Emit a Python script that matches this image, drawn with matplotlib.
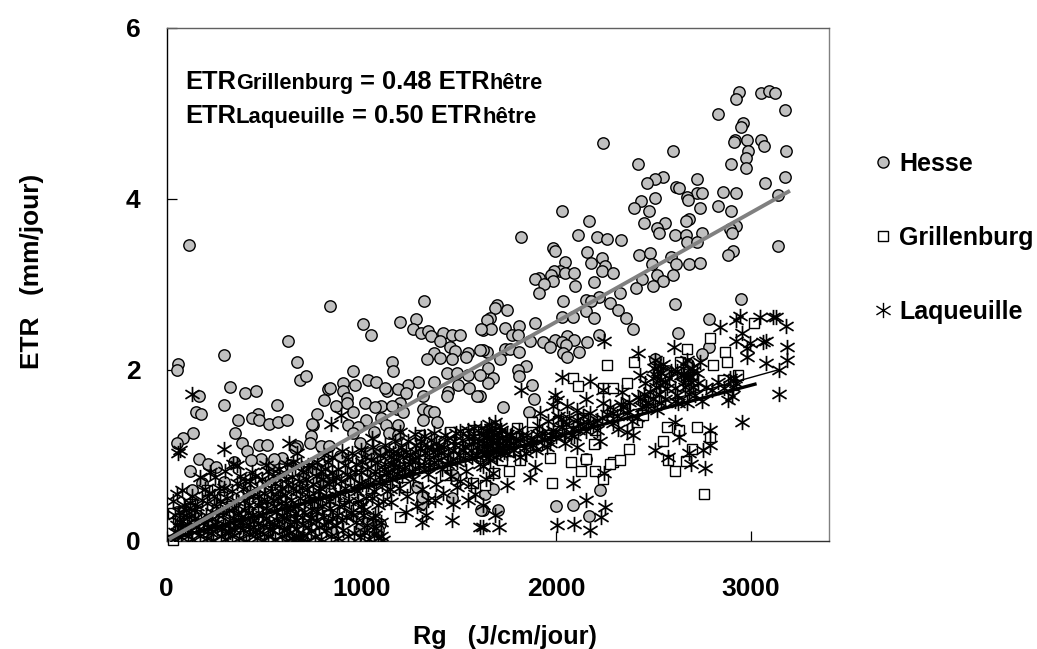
import matplotlib
matplotlib.use("Agg")
import matplotlib.pyplot as plt
from matplotlib.lines import Line2D
from matplotlib.path import Path

plt.rcParams['font.family'] = ['Liberation Sans', 'DejaVu Sans']
plt.rcParams['font.weight'] = 'bold'

x_ticks = [0, 1000, 2000, 3000]
y_ticks = [0, 2, 4, 6]
x_title = "Rg   (J/cm/jour)"
y_title = "ETR   (mm/jour)"
series_names = ["Hesse", "Grillenburg", "Laqueuille"]

hesse_pts = [
(2939,5.25),(2922,5.16),(3049,5.24),(3090,5.26),(3122,5.24),(3172,5.03),(2831,4.99),(2956,4.88),(2946,4.84),(2241,4.65),
(2915,4.69),(2914,4.66),(2980,4.69),(3049,4.69),(3066,4.62),(2982,4.56),(2599,4.56),(3180,4.56),(2973,4.48),(2417,4.40),
(2898,4.40),(2972,4.36),(3172,4.25),(2722,4.23),(2549,4.25),(2508,4.23),(2465,4.18),(3073,4.18),(2614,4.14),(2631,4.12),
(2857,4.08),(2922,4.06),(2724,4.06),(2749,4.06),(2672,4.02),(2674,3.98),(2508,4.01),(3138,4.04),(2433,3.97),(2400,3.89),
(2475,3.86),(2831,3.91),(2739,3.89),(2898,3.85),(2027,3.85),(2168,3.74),(2450,3.72),(2558,3.72),(2683,3.76),(2665,3.74),
(2515,3.66),(2525,3.60),(2607,3.57),(2665,3.57),(2749,3.60),(2925,3.68),(2891,3.64),(2900,3.60),(1818,3.55),(2109,3.57),
(2209,3.55),(2258,3.53),(2333,3.51),(2672,3.49),(2724,3.49),(3138,3.45),(1984,3.42),(1995,3.39),(2159,3.37),(2426,3.34),
(2482,3.36),(2907,3.39),(2881,3.34),(2234,3.30),(2044,3.26),(2176,3.25),(2491,3.23),(2590,3.32),(2616,3.23),(2683,3.23),
(2739,3.25),(2251,3.21),(2019,3.15),(1988,3.15),(1971,3.11),(2044,3.13),(2092,3.13),(2234,3.15),(2292,3.13),(2517,3.11),
(2599,3.11),(1911,3.07),(1890,3.06),(1984,3.04),(1936,3.00),(2193,3.02),(2441,3.06),(2549,3.04),(2094,2.98),(2407,2.96),
(2499,2.98),(1911,2.90),(2327,2.90),(2217,2.85),(2034,2.80),(2150,2.81),(2176,2.80),(2275,2.78),(2607,2.77),(2948,2.83),
(1695,2.76),(1745,2.70),(1683,2.72),(2316,2.70),(2150,2.68),(2027,2.62),(2084,2.62),(2193,2.60),(2357,2.60),(1892,2.55),
(2782,2.59),(1659,2.60),(1642,2.58),(2392,2.48),(1810,2.51),(1736,2.49),(1625,2.46),(1663,2.48),(1774,2.41),(1801,2.41),
(2056,2.39),(2092,2.35),(1995,2.35),(2217,2.40),(2159,2.32),(1933,2.32),(1865,2.34),(2027,2.32),(2049,2.29),(1967,2.26),
(1736,2.24),(1762,2.24),(1810,2.21),(2118,2.21),(2032,2.19),(2053,2.15),(1642,2.21),(1711,2.13),(1625,2.23),(1647,2.02),
(1844,2.04),(1801,2.00),(1810,1.92),(1676,1.90),(1651,1.84),(1877,1.82),(2623,2.43),(2782,2.26),(2746,2.18),(2576,1.98),
(2508,2.13),(1885,1.66),(1860,1.50),(1728,1.56),(1608,1.69),(2155,0.95),(2224,0.59),(2001,0.40),(2085,0.42),(2167,0.29),
(1702,0.36),(1634,0.55),(1676,0.61),(1625,0.36),(2677,2.07),
(60,2.07),(52,1.99),(293,2.17),(625,2.34),(667,2.09),(685,1.88),(715,1.92),(840,2.74),(1006,2.53),(1047,2.41),
(1198,2.56),(1280,2.59),(1321,2.80),(1263,2.47),(1306,2.43),(1340,2.45),(1357,2.39),(1420,2.43),(1463,2.41),(1506,2.41),
(1405,2.34),(1455,2.26),(1480,2.22),(1371,2.20),(1338,2.13),(1403,2.14),(1463,2.13),(1545,2.19),(1537,2.15),(1157,2.09),
(1164,1.98),(957,1.98),(1438,1.96),(1489,1.96),(1549,1.94),(1032,1.88),(1075,1.86),(907,1.84),(967,1.82),(1289,1.86),
(1371,1.86),(1237,1.82),(1497,1.82),(1446,1.74),(1554,1.78),(1591,1.69),(1438,1.69),(325,1.80),(401,1.73),(459,1.75),
(168,1.69),(151,1.50),(176,1.48),(295,1.59),(567,1.59),(827,1.77),(839,1.79),(810,1.65),(907,1.75),(924,1.67),
(868,1.57),(924,1.61),(1017,1.61),(1099,1.57),(1131,1.75),(1189,1.77),(1230,1.73),(1121,1.79),(1314,1.69),(1198,1.61),
(1314,1.54),(1348,1.52),(1374,1.50),(1181,1.54),(1215,1.50),(1155,1.57),(1068,1.56),(958,1.50),(774,1.48),(467,1.48),
(368,1.41),(438,1.43),(476,1.41),(525,1.37),(573,1.39),(616,1.41),(753,1.35),(745,1.37),(1025,1.41),(1099,1.44),
(1124,1.35),(1189,1.35),(1386,1.39),(1314,1.41),(933,1.35),(984,1.33),(1063,1.27),(958,1.26),(1140,1.26),(1189,1.24),
(137,1.26),(86,1.20),(52,1.14),(351,1.26),(385,1.14),(476,1.12),(517,1.12),(741,1.22),(736,1.14),(792,1.11),
(833,1.11),(414,1.05),(668,1.11),(659,1.08),(991,1.14),(1039,1.03),(1102,1.05),(168,0.95),(211,0.90),(253,0.86),
(120,0.82),(348,0.92),(484,0.95),(431,0.94),(548,0.88),(594,0.97),(553,0.96),(633,0.88),(762,0.84),(702,0.76),
(890,0.99),(294,0.69),(180,0.67),(129,0.59),(839,0.67),(796,0.71),(52,0.33),(77,0.35),(1027,0.21),(847,0.10),
(1095,0.20),(993,0.14),(1087,0.12),(1463,0.50),(1306,0.43),(1283,0.63),(1309,0.51),(1472,0.77),(1612,0.36),(1608,2.23),
(1612,2.47),(1608,1.94),(115,3.46),
]

grillenburg_pts = [
(3014,2.54),(2790,2.37),(2672,2.24),(2866,2.21),(2260,2.05),(2400,2.09),(2635,2.09),(2806,2.05),(2878,2.09),(2934,1.94),
(2857,1.88),(2087,1.90),(2113,1.81),(2241,1.78),(2292,1.78),(2361,1.84),(2352,1.55),(2412,1.39),(2446,1.47),(2138,1.43),
(1873,1.39),(1796,1.32),(1967,1.23),(2566,1.33),(2631,1.30),(2724,1.33),(2789,1.21),(2549,1.16),(2695,1.07),(2374,1.07),
(2193,1.13),(1967,0.97),(2075,0.92),(2155,0.95),(2292,0.92),(2327,0.94),(2275,0.90),(2125,0.82),(2198,0.82),(2575,0.94),
(2609,0.82),(2665,0.93),(1976,0.67),(2241,0.72),(2758,0.55),(1813,0.94),(1759,0.81),(1680,0.79),(1719,0.94),(1634,0.65),
(1455,1.27),(1571,1.29),(1549,1.25),(1571,0.68),(1300,1.23),(1224,0.63),(34,0.01),(205,0.59),(120,0.43),(283,0.51),
(565,0.59),(1198,0.28),(984,0.40),(1429,0.77),(1540,1.18),(34,0.32),(60,0.25),(95,0.12),(150,0.30),(230,0.18),
(330,0.40),(400,0.22),(470,0.34),(520,0.12),(640,0.30),(760,0.45),(830,0.30),(905,0.52),(1050,0.62),(1120,0.72),
(1250,0.85),(1350,1.02),(1480,0.98),(1620,1.10),(1680,1.22),(1750,1.05),(1900,1.12),(2010,1.40),(2200,1.30),(2480,1.62),
]

laqueuille_pts = [
(2941,2.63),(2924,2.58),(3045,2.62),(3110,2.61),(3127,2.61),(3177,2.51),(2838,2.50),(2951,2.43),(2922,2.34),(2245,2.33),
(3076,2.33),(3062,2.32),(3186,2.27),(2977,2.25),(2994,2.31),(2605,2.27),(2421,2.20),(2977,2.15),(3182,2.11),(3076,2.08),
(3143,1.99),(2506,2.11),(2549,2.07),(2652,2.07),(2737,2.09),(2027,1.91),(2173,1.87),(2429,1.94),(2455,1.84),(2532,1.82),
(2686,1.92),(2703,1.80),(2609,1.78),(2908,1.80),(2900,1.69),(3143,1.71),(2883,1.65),(1820,1.76),(1993,1.70),(2155,1.66),
(2241,1.76),(2335,1.74),(2429,1.66),(2498,1.66),(2609,1.63),(2746,1.63),(2669,1.61),(2951,1.39),(2609,1.39),(2789,1.29),
(2789,1.12),(2754,1.06),(2682,1.02),(2694,0.90),(2763,0.85),(2629,1.21),(2506,1.06),(2575,0.98),(2395,1.24),(2361,1.27),
(2318,1.31),(2224,1.17),(2104,1.10),(2044,1.14),(1967,1.14),(1890,0.86),(1865,0.75),(2087,0.68),(2245,0.79),(2155,0.47),
(2250,0.39),(2232,0.28),(2005,0.18),(2089,0.20),(2171,0.12),(1707,0.16),(1625,0.16),(1685,0.30),(1625,0.42),(1745,0.65),
(1685,1.39),(1642,1.29),(1711,1.33),(1745,1.25),(1813,1.18),(1899,1.25),(2027,1.33),(2087,1.31),(2207,1.41),(2292,1.49),
(2361,1.49),(2412,1.45),(2515,1.53),(1916,1.49),(1984,1.57),(2053,1.57),(2104,1.53),(2241,1.61),(2002,1.65),(2104,1.41),
(2173,1.49),(1813,0.98),(1676,1.06),(1642,1.14),(1659,0.94),(1711,1.09),(1779,1.14),(1865,1.14),(1625,0.87),(1676,0.79),
(2463,1.57),(2540,1.61),(2626,1.61),(2532,1.88),(2669,2.11),(2703,1.98),(2925,1.84),
(132,1.72),(57,1.02),(69,1.06),(296,1.07),(630,1.14),(842,1.36),(893,1.47),(339,0.90),(668,1.02),(52,0.55),
(77,0.59),(171,0.75),(1164,1.02),(1198,1.27),(1275,1.25),(1052,1.20),(1463,0.24),(1309,0.22),(1549,0.47),(1472,0.43),
(1343,0.47),(1609,0.16),(1489,0.63),
# ground hugging band
(40,0.02),(60,0.10),(75,0.04),(95,0.14),(110,0.06),(130,0.02),(150,0.16),(170,0.05),(185,0.12),(205,0.03),
(225,0.09),(240,0.01),(260,0.15),(280,0.05),(300,0.02),(315,0.11),(335,0.06),(350,0.18),(370,0.03),(390,0.12),
(405,0.00),(425,0.08),(445,0.16),(465,0.03),(480,0.10),(500,0.01),(520,0.06),(540,0.13),(555,0.02),(575,0.17),
(590,0.05),(610,0.00),(630,0.09),(645,0.03),(665,0.14),(685,0.02),(700,0.07),(720,0.00),(740,0.11),(760,0.04),
(635,0.20),(652,0.01),(672,0.06),(690,0.00),(880,0.03),(905,0.12),(930,0.05),(1040,0.02),(1062,0.08),(1085,0.03),
(1100,0.06),(990,0.04),(1012,0.10),(1030,0.18),(845,0.05),(820,0.13),(790,0.02),(960,0.09),(1075,0.15),(1110,0.01),
# low cloud
(45,0.30),(70,0.22),(90,0.42),(115,0.28),(140,0.36),(160,0.24),(180,0.48),(200,0.30),(215,0.56),(235,0.25),
(255,0.40),(270,0.62),(290,0.30),(310,0.50),(325,0.22),(345,0.38),(360,0.68),(380,0.28),(395,0.48),(415,0.32),
(430,0.58),(450,0.24),(470,0.42),(490,0.30),(505,0.66),(525,0.22),(545,0.48),(560,0.34),(580,0.58),(600,0.26),
(615,0.44),(635,0.36),(650,0.62),(670,0.24),(685,0.50),(705,0.34),(720,0.60),(735,0.27),(755,0.46),(770,0.35),
(785,0.62),(805,0.28),(820,0.52),(840,0.38),(855,0.70),(875,0.30),(890,0.56),(910,0.42),(925,0.78),(945,0.34),
(960,0.62),(980,0.46),(1000,0.80),(1015,0.36),(1035,0.66),(1055,0.50),(1070,0.30),(1090,0.74),(1110,0.46),(1130,0.58),
(400,0.70),(440,0.80),(520,0.82),(580,0.78),(610,0.72),(660,0.86),(700,0.80),(745,0.88),(790,0.82),(830,0.92),
(880,0.84),(930,0.96),(970,0.90),(1020,0.98),(1080,0.92),(220,0.80),(250,0.74),(300,0.82),(360,0.88),(100,0.36),
(430,0.14),(470,0.20),(510,0.26),(550,0.18),(590,0.30),(620,0.14),(660,0.32),(700,0.18),(740,0.26),(780,0.16),
(830,0.22),(870,0.18),(920,0.28),(970,0.22),(1010,0.30),(1060,0.26),(1100,0.22),(375,0.16),(340,0.26),(300,0.18),
# rising band
(1120,0.90),(1140,1.05),(1155,0.72),(1175,0.95),(1190,0.62),(1205,1.10),(1220,0.85),(1235,0.52),(1250,1.00),(1265,0.72),
(1280,1.12),(1295,0.88),(1310,0.60),(1325,1.02),(1340,0.78),(1355,1.18),(1370,0.92),(1385,0.66),(1400,1.10),(1415,0.84),
(1430,1.24),(1445,1.00),(1460,0.76),(1475,1.16),(1490,0.92),(1505,1.28),(1520,1.06),(1535,0.82),(1550,1.20),(1565,0.98),
(1580,1.32),(1595,1.10),(1610,0.90),(1625,1.24),(1640,1.02),(1655,1.36),(1670,1.18),(1690,0.98),(1705,1.26),(1725,1.12),
(1745,1.02),(1760,1.22),(1785,1.06),(1810,1.30),(1835,1.08),(1850,1.24),(1880,1.12),(1910,1.34),(1935,1.18),(1960,1.40),
(1985,1.30),(2010,1.46),(2040,1.24),(2065,1.44),(2090,1.22),(2120,1.36),(2150,1.28),(2190,1.36),(2260,1.48),(2290,1.38),
(2330,1.60),(2390,1.40),(2440,1.56),(2480,1.74),(2510,1.80),(2560,1.66),(2590,1.98),(2650,1.84),(2680,1.72),(2720,1.96),
(2770,1.80),(2830,1.86),(1150,0.45),(1230,0.34),(1285,0.40),(1330,0.30),(1375,0.48),(1420,0.56),(1505,0.70),(1560,0.66),
(1585,0.55),(1640,0.72),(1180,0.78),(1260,0.96),(1345,0.96),(1440,0.90),(1530,0.96),(1620,1.04),(1700,1.12),(1640,1.20),
(1670,1.28),(1690,1.06),(1660,1.12),(1720,1.20),(1150,0.98),(1215,0.98),(1300,1.08),(1390,1.06),(1480,1.12),(1570,1.16),
]

# the solid black mass of stars in the lower left of the cloud
laqueuille_dense_pts = [
(55,0.18),(85,0.28),(105,0.20),(125,0.12),(145,0.26),(165,0.14),(190,0.22),(210,0.16),(230,0.34),(250,0.20),
(265,0.30),(285,0.14),(305,0.38),(325,0.10),(345,0.14),(365,0.32),(385,0.22),(400,0.36),(420,0.20),(440,0.30),
(455,0.10),(475,0.52),(495,0.18),(510,0.38),(530,0.14),(550,0.40),(565,0.24),(585,0.44),(600,0.12),(620,0.34),
(640,0.48),(655,0.22),(675,0.40),(695,0.28),(710,0.46),(725,0.16),(745,0.36),(765,0.24),(775,0.50),(795,0.40),
(810,0.18),(835,0.46),(850,0.26),(865,0.54),(885,0.40),(900,0.24),(915,0.62),(935,0.46),(955,0.30),(975,0.58),
(995,0.40),(1005,0.66),(1025,0.50),(1045,0.74),(1065,0.58),(1085,0.42),(1105,0.66),(1125,0.78),(1145,0.60),(1165,0.86),
(420,0.42),(445,0.52),(465,0.60),(485,0.46),(500,0.56),(515,0.46),(535,0.58),(555,0.68),(570,0.50),(590,0.62),
(605,0.54),(625,0.66),(645,0.74),(665,0.58),(680,0.70),(695,0.62),(715,0.72),(730,0.52),(750,0.66),(765,0.76),
(780,0.58),(800,0.72),(815,0.84),(835,0.66),(850,0.80),(870,0.74),(895,0.70),(915,0.88),(940,0.74),(965,0.80),
(985,0.68),(1005,0.92),(1030,0.84),(1050,0.94),(1070,0.82),(1095,1.00),(1115,0.84),(1135,0.80),(1160,0.90),(1185,1.02),
(1195,0.86),(1210,0.76),(1230,1.04),(1245,0.90),(1260,0.82),(1275,1.04),(1290,0.98),(1305,1.16),(1320,0.88),(1335,1.10),
(1350,0.88),(1365,1.04),(1380,1.14),(1395,0.94),(1410,1.02),(1425,1.10),(1440,1.18),(1455,0.92),(1470,1.06),(1485,1.26),
(1500,1.00),(1515,1.18),(1530,1.10),(1545,1.30),(1560,1.06),(1575,1.22),(1590,1.00),(1605,1.16),(1615,1.32),(1630,1.10),
(1645,1.24),(1650,0.98),(1665,1.32),(1675,1.14),(1680,1.24),(1695,1.18),(1710,1.02),(1715,1.30),(1730,1.04),(1740,1.18),
(1755,1.12),(1770,1.24),(1795,1.16),(1825,1.24),(1845,1.02),(1870,1.18),(1895,1.06),(1925,1.26),(1950,1.10),(1975,1.24),
(2000,1.22),(2025,1.42),(2050,1.36),(2075,1.24),(2110,1.30),(2135,1.46),(2165,1.38),(2210,1.30),(2235,1.44),(2275,1.56),
(2310,1.46),(2345,1.56),(2375,1.62),(2420,1.68),(2450,1.72),(2470,1.62),(2495,1.90),(2525,1.72),(2570,1.78),(2620,1.70),
(2640,1.94),(2660,1.80),(2675,1.92),(2695,2.02),(2710,1.70),(2730,1.84),(2800,1.76),(2860,1.78),(2890,1.90),(2915,1.90),
(2520,1.98),(2540,1.96),(2560,1.86),(2580,1.90),(2620,1.98),(2655,1.94),(2690,1.86),(2500,2.02),(2530,2.04),(2515,1.92),
(30,0.46),(45,0.10),(65,0.34),(80,0.16),(120,0.44),(130,0.52),(155,0.40),(195,0.60),(205,0.44),(245,0.52),
(275,0.46),(295,0.62),(320,0.36),(335,0.58),(355,0.46),(375,0.76),(390,0.60),(410,0.54),(430,0.70),(455,0.76),
(490,0.72),(510,0.88),(545,0.76),(575,0.84),(620,0.90),(650,0.92),(690,0.90),(725,0.88),(770,0.92),(810,1.00),
(850,0.98),(900,1.05),(950,1.02),(1000,1.06),(1060,1.10),(1120,1.12),(1170,1.16),(1240,1.16),(1320,1.22),(1370,1.26),
]

hesse_x, hesse_y = zip(*hesse_pts)
grill_x, grill_y = zip(*grillenburg_pts)
laq_x, laq_y = zip(*(laqueuille_pts + laqueuille_dense_pts))

# regression line end points
hesse_fit_x, hesse_fit_y = [20, 3191], [0.03, 4.08]
grill_fit_x, grill_fit_y = [20, 3020], [0.02, 1.83]
laq_fit_x, laq_fit_y = [20, 3143], [0.02, 2.00]

W, H = 1037, 649
fig = plt.figure(figsize=(W/100, H/100), dpi=100, facecolor='white')
L, R, T, B = 166.7, 829.0, 27.5, 540.7
ax = fig.add_axes([L/W, 1-B/H, (R-L)/W, (B-T)/H])
ax.set_xlim(0, 3400)
ax.set_ylim(0, 6)

star = Path([(-1, -0.62), (1, 0.62), (-1, 0.62), (1, -0.62), (0, -1.08), (0, 1.08)],
            [Path.MOVETO, Path.LINETO, Path.MOVETO, Path.LINETO, Path.MOVETO, Path.LINETO])

ax.plot(hesse_x, hesse_y, ls='none', marker='o', ms=8.2, mfc='#C0C0C0', mec='black', mew=1.0, zorder=2, clip_on=False)
ax.plot(grill_x, grill_y, ls='none', marker='s', ms=7.8, mfc='white', mec='black', mew=1.0, zorder=3, clip_on=False)
ax.plot(laq_x, laq_y, ls='none', marker=star, ms=11, mfc='none', mec='black', mew=1.25, zorder=4)
ax.plot(laq_fit_x, laq_fit_y, color='black', lw=1.0, zorder=5)
ax.plot(grill_fit_x, grill_fit_y, color='black', lw=2.4, zorder=5)
ax.plot(hesse_fit_x, hesse_fit_y, color='#808080', lw=2.8, zorder=6)

ax.set_xticks(x_ticks)
ax.set_yticks(y_ticks)
ax.tick_params(axis='both', direction='in', length=7.5, width=0.9, labelsize=19, color='black')
ax.tick_params(axis='x', pad=26)
ax.tick_params(axis='y', pad=19)
ax.spines['left'].set_color('black')
ax.spines['bottom'].set_color('#303030')
ax.spines['top'].set_color('#606060')
ax.spines['right'].set_color('#808080')
for s in ax.spines.values():
    s.set_linewidth(1.0)

fig.text(505/W, 1-637/H, x_title, ha='center', va='center', fontsize=18.2, fontweight='bold')
fig.text(32/W, 1-271/H, y_title, ha='center', va='center', rotation=90, fontsize=18.9, fontweight='bold')

handles = [
    Line2D([], [], ls='none', marker='o', ms=8.0, mfc='#C0C0C0', mec='black', mew=1.0),
    Line2D([], [], ls='none', marker='s', ms=7.8, mfc='white', mec='black', mew=1.0),
    Line2D([], [], ls='none', marker=star, ms=11, mfc='none', mec='black', mew=1.0),
]
fig.legend(handles, series_names, loc='center left', bbox_to_anchor=(867/W, 1-238/H), frameon=False,
           labelspacing=2.0, handletextpad=0.0, handlelength=1.28, borderpad=0, borderaxespad=0,
           prop={'family': 'Liberation Sans', 'weight': 'bold', 'size': 18.0})

def segments(x_px, y_px, parts):
    r = fig.canvas.get_renderer()
    for txt, size in parts:
        t = fig.text(x_px/W, 1-y_px/H, txt, fontsize=size, fontweight='bold', ha='left', va='baseline')
        x_px += t.get_window_extent(r).width

segments(185, 89, [("ETR", 18.4), ("Grillenburg", 15.7), (" = 0.48 ETR", 18.4), ("hêtre", 15.7)])
segments(185, 123, [("ETR", 18.4), ("Laqueuille", 15.9), (" = 0.50 ETR", 18.4), ("hêtre", 15.9)])

fig.savefig("out.png", dpi=100, facecolor='white')
